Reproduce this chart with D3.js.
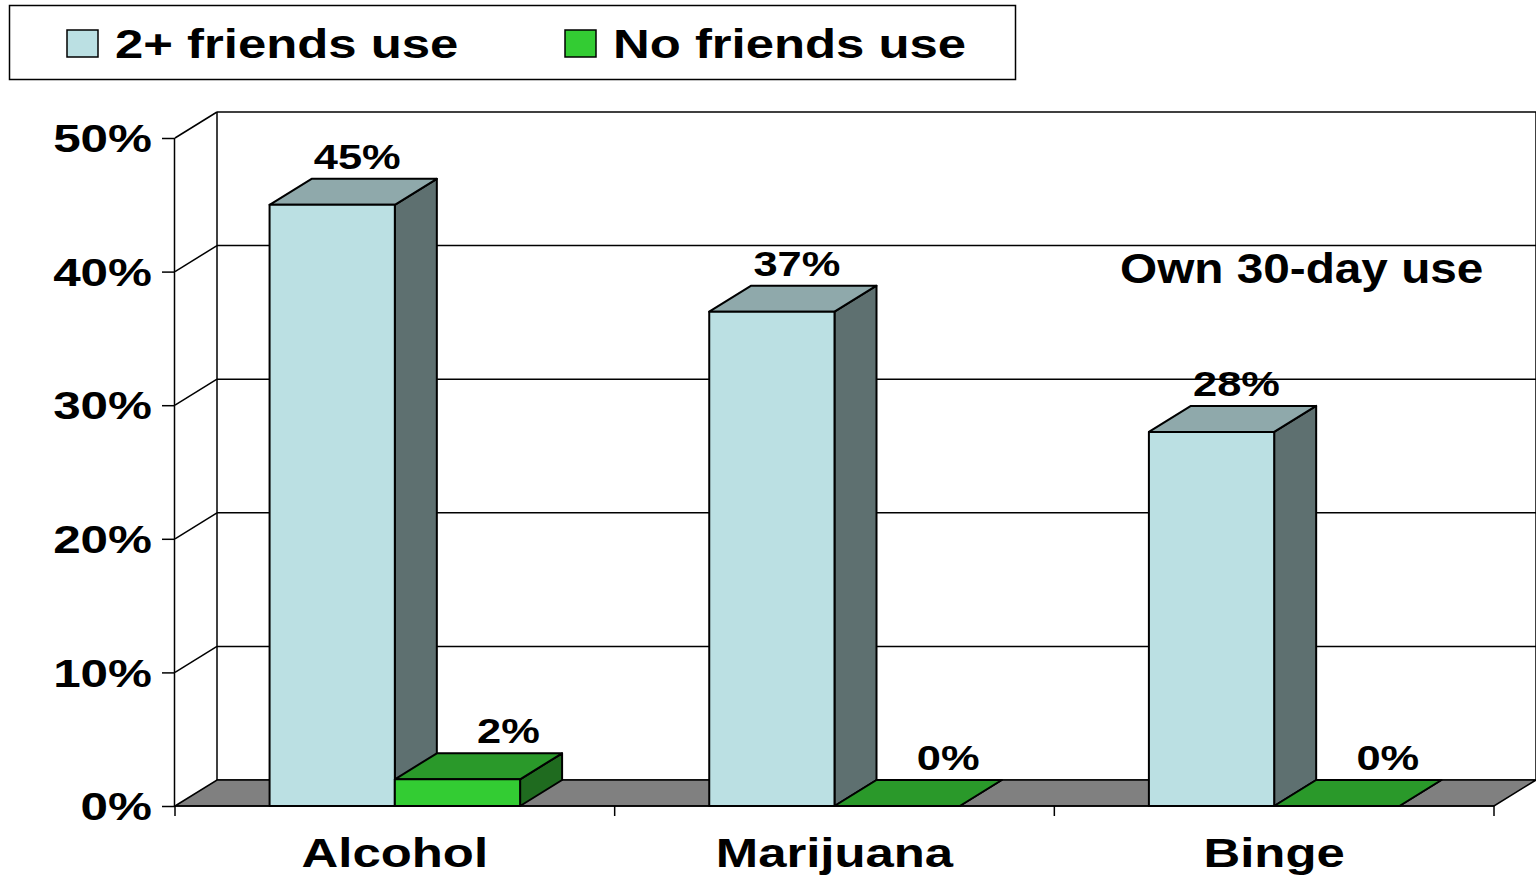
<!DOCTYPE html>
<html>
<head>
<meta charset="utf-8">
<script src="https://cdn.jsdelivr.net/npm/d3@7"></script>
<style>
  html, body { margin: 0; padding: 0; background: #fff; }
  svg { display: block; }
  text { font-family: Arial, "Liberation Sans", sans-serif; font-weight: bold; fill: #000; }
</style>
</head>
<body>
<svg id="chart" width="1536" height="876"></svg>
<script>
// ---- data ----
const categories = ["Alcohol", "Marijuana", "Binge"];
const seriesNames = ["2+ friends use", "No friends use"];
const friendsUse = [0.45, 0.37, 0.28];
const noFriendsUse = [0.02, 0.00, 0.00];
const yTicks = [0, 0.1, 0.2, 0.3, 0.4, 0.5];
const yTickLabels = ["0%", "10%", "20%", "30%", "40%", "50%"];
const valueLabels = [["45%", "37%", "28%"], ["2%", "0%", "0%"]];
const noteText = "Own 30-day use";

// ---- style ----
const faceColors = [
  { front: "#BBE0E3", top: "#8FA9AB", side: "#5E7070" },
  { front: "#33CC33", top: "#2A992A", side: "#1F6B1F" }
];
const floorColor = "#808080";
const STRETCH = 1.24;          // horizontal text widening
const labelShift = [4, 30];    // value label nudge per series

const svg = d3.select("#chart");

// ---- geometry ----
const frontLeft = 175, frontRight = 1494;
const depthX = 42, depthY = -26;
const y = d3.scaleLinear().domain([0, 0.5]).range([806, 138]);
const x = d3.scaleBand().domain(categories).range([frontLeft, frontRight]).paddingInner(0).paddingOuter(0);
const xs = d3.scaleBand().domain(seriesNames).range([0, x.bandwidth()]).paddingInner(0).paddingOuter(0.755);
const y0 = y(0);

function stretch(sel, k) {
  sel.each(function () {
    const len = this.getComputedTextLength();
    d3.select(this).attr("textLength", len * k).attr("lengthAdjust", "spacingAndGlyphs");
  });
  return sel;
}

// ---- back wall and grid ----
const wallLeft = frontLeft + depthX, wallRight = frontRight + depthX;
const wall = svg.append("g");
yTicks.forEach(t => {
  const yy = y(t) + depthY;
  wall.append("line").attr("x1", wallLeft).attr("x2", wallRight + 1).attr("y1", yy).attr("y2", yy)
    .attr("stroke", "#000").attr("stroke-width", 1.5);
  if (t > 0) {
    wall.append("line").attr("x1", frontLeft).attr("y1", y(t)).attr("x2", wallLeft).attr("y2", yy)
      .attr("stroke", "#000").attr("stroke-width", 1.5);
  }
});
wall.append("line").attr("x1", wallLeft).attr("x2", wallLeft)
  .attr("y1", y(0) + depthY).attr("y2", y(0.5) + depthY).attr("stroke", "#000").attr("stroke-width", 1.5);
wall.append("line").attr("x1", wallRight).attr("x2", wallRight)
  .attr("y1", y(0) + depthY).attr("y2", y(0.5) + depthY).attr("stroke", "#000").attr("stroke-width", 1.5);

// ---- floor ----
svg.append("polygon")
  .attr("points", [[frontLeft, y0], [wallLeft, y0 + depthY], [wallRight, y0 + depthY], [frontRight, y0]].join(" "))
  .attr("fill", floorColor).attr("stroke", "#000").attr("stroke-width", 1.5);

// ---- note ----
const note = svg.append("text").attr("x", 1120).attr("y", 283).style("font-size", "43px").text(noteText);
stretch(note, 1.11);

// ---- bars ----
const seriesValues = [friendsUse, noFriendsUse];
const bars = svg.append("g");
categories.forEach((cat, ci) => {
  seriesNames.forEach((s, si) => {
    const v = seriesValues[si][ci];
    const bx = x(cat) + xs(s), bw = xs.bandwidth();
    const by = y(v);
    const c = faceColors[si];
    const g = bars.append("g").attr("stroke", "#000").attr("stroke-width", 2).attr("stroke-linejoin", "round");
    g.append("polygon")
      .attr("points", [[bx + bw, by], [bx + bw + depthX, by + depthY], [bx + bw + depthX, y0 + depthY], [bx + bw, y0]].join(" "))
      .attr("fill", c.side);
    g.append("polygon")
      .attr("points", [[bx, by], [bx + depthX, by + depthY], [bx + bw + depthX, by + depthY], [bx + bw, by]].join(" "))
      .attr("fill", c.top);
    g.append("rect").attr("x", bx).attr("y", by).attr("width", bw).attr("height", y0 - by)
      .attr("fill", c.front);
    const lbl = svg.append("text")
      .attr("x", bx + bw / 2 + depthX / 2 + labelShift[si])
      .attr("y", by + depthY - 10)
      .attr("text-anchor", "middle")
      .style("font-size", "35px")
      .text(valueLabels[si][ci]);
    stretch(lbl, STRETCH);
  });
});

// ---- axes ----
const yAxis = d3.axisLeft(y).tickValues(yTicks).tickSize(13).tickPadding(10)
  .tickFormat((d, i) => yTickLabels[i]);
const yg = svg.append("g").attr("transform", `translate(${frontLeft},0)`).call(yAxis);
yg.select(".domain").attr("d", `M-0.5,${y0}V${y(0.5)}`).attr("stroke", "#000").attr("stroke-width", 1.5);
yg.selectAll(".tick line").attr("stroke", "#000").attr("stroke-width", 1.5);
yg.selectAll(".tick text").attr("dy", "0.36em").style("font-size", "38px").style("font-family", null);
yg.selectAll(".tick text").call(stretch, 1.3);

const xg = svg.append("g").attr("transform", `translate(0,${y0})`);
const bounds = categories.map(c => x(c)).concat([frontRight]);
xg.append("line").attr("x1", frontLeft).attr("x2", frontRight).attr("y1", 0).attr("y2", 0)
  .attr("stroke", "#000").attr("stroke-width", 1.5);
xg.selectAll("line.tick").data(bounds).join("line").attr("class", "tick")
  .attr("x1", d => d).attr("x2", d => d).attr("y1", 0).attr("y2", 10)
  .attr("stroke", "#000").attr("stroke-width", 1.5);
const cl = xg.selectAll("text.cat").data(categories).join("text").attr("class", "cat")
  .attr("x", d => x(d) + x.bandwidth() / 2).attr("y", 61)
  .attr("text-anchor", "middle").style("font-size", "41px").text(d => d);
stretch(cl, STRETCH);

// ---- legend ----
const lg = svg.append("g");
lg.append("rect").attr("x", 9.5).attr("y", 5.5).attr("width", 1006).attr("height", 74)
  .attr("fill", "#fff").attr("stroke", "#000").attr("stroke-width", 1.5);
const legendX = [67, 565];
seriesNames.forEach((s, i) => {
  lg.append("rect").attr("x", legendX[i]).attr("y", 30).attr("width", 31).attr("height", 27)
    .attr("fill", faceColors[i].front).attr("stroke", "#000").attr("stroke-width", 1.5);
  const t = lg.append("text").attr("x", legendX[i] + 48).attr("y", 58)
    .style("font-size", "41px").text(s);
  stretch(t, STRETCH);
});
</script>
</body>
</html>
